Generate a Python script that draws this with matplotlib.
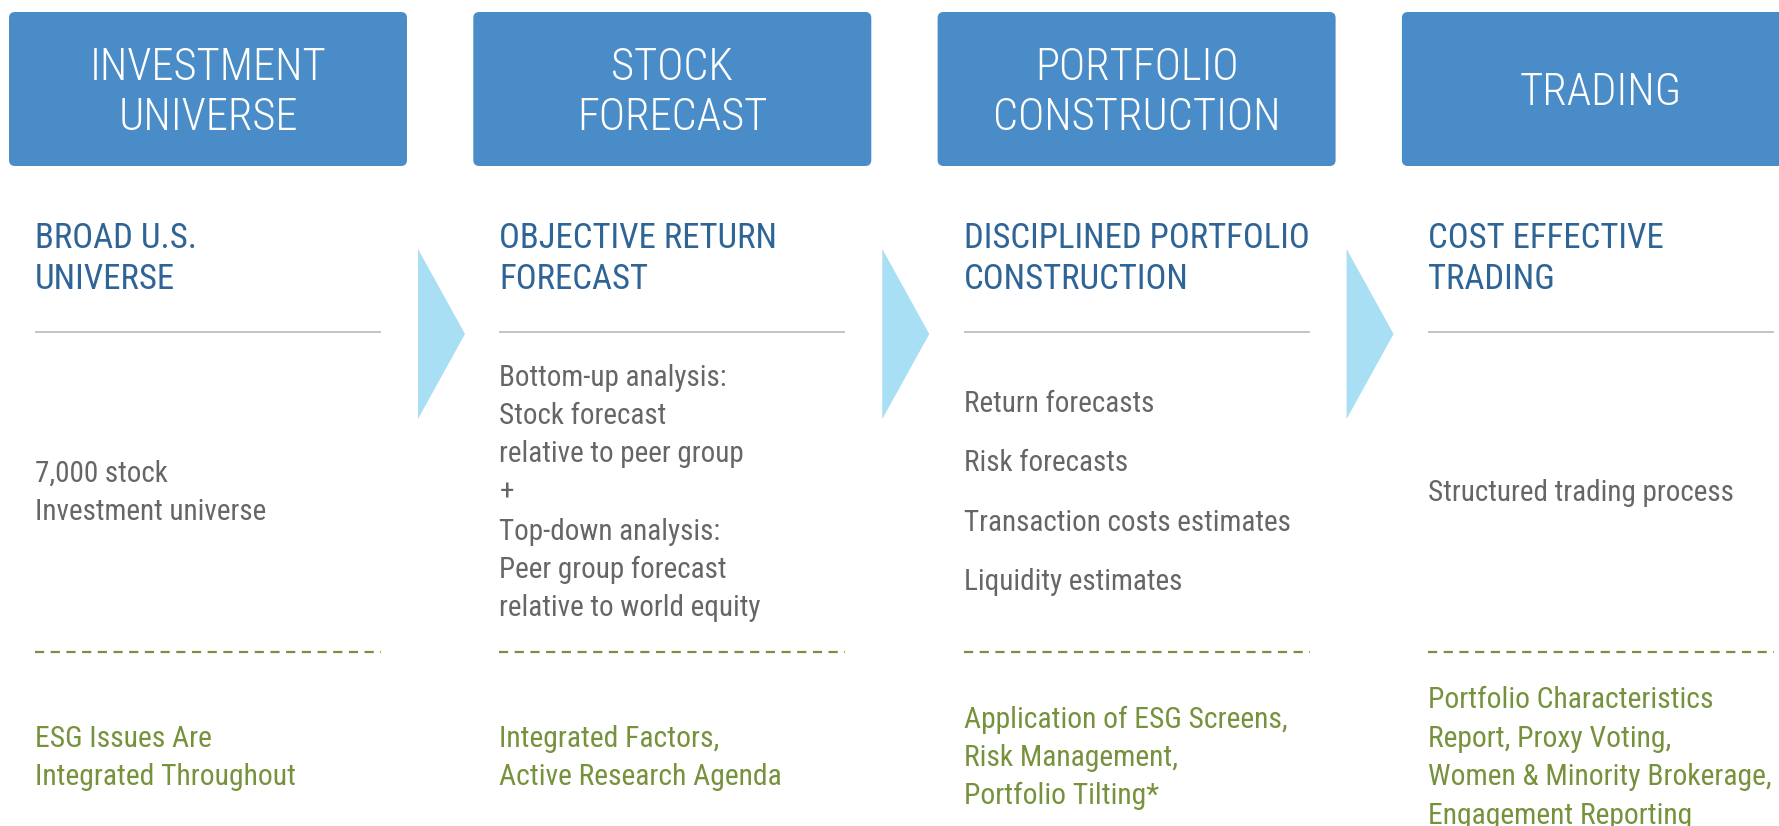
import matplotlib
matplotlib.use("Agg")
import matplotlib.pyplot as plt
from matplotlib import font_manager as fm
from matplotlib.patches import FancyBboxPatch, Polygon

# ---------------- data ----------------
headers = [["INVESTMENT", "UNIVERSE"],
           ["STOCK", "FORECAST"],
           ["PORTFOLIO", "CONSTRUCTION"],
           ["TRADING"]]
subheads = [["BROAD U.S.", "UNIVERSE"],
            ["OBJECTIVE RETURN", "FORECAST"],
            ["DISCIPLINED PORTFOLIO", "CONSTRUCTION"],
            ["COST EFFECTIVE", "TRADING"]]
body = [["7,000 stock", "Investment universe"],
        ["Bottom-up analysis:", "Stock forecast", "relative to peer group", "+",
         "Top-down analysis:", "Peer group forecast", "relative to world equity"],
        ["Return forecasts", "Risk forecasts", "Transaction costs estimates",
         "Liquidity estimates"],
        ["Structured trading process"]]
esg = [["ESG Issues Are", "Integrated Throughout"],
       ["Integrated Factors,", "Active Research Agenda"],
       ["Application of ESG Screens,", "Risk Management,", "Portfolio Tilting*"],
       ["Portfolio Characteristics", "Report, Proxy Voting,",
        "Women & Minority Brokerage,", "Engagement Reporting"]]
body_spacing = [38.5, 38.5, 59.3, 38.5]

# ---------------- style ----------------
W, H, DPI = 1779, 826, 100
BOX_BLUE = "#4a8cc8"
SUB_BLUE = "#2f6496"
GRAY_TXT = "#666666"
GREEN = "#76923c"
ARROW = "#a8dff5"
RULE = "#bfbfbf"

names = {f.name for f in fm.fontManager.ttflist}
FAM0 = "DejaVu Sans"
for cand in ["Liberation Sans Narrow", "Arial Narrow", "Roboto Condensed",
             "Archivo Narrow", "Sofia Sans Condensed"]:
    if cand in names:
        FAM0 = cand
        break
FAM = [FAM0, "DejaVu Sans"]
plt.rcParams["font.family"] = FAM
plt.rcParams["lines.scale_dashes"] = False

fig = plt.figure(figsize=(W / DPI, H / DPI), dpi=DPI)
ax = fig.add_axes([0, 0, 1, 1])
ax.set_xlim(0, W)
ax.set_ylim(H, 0)
ax.axis("off")

pitch = 464.3
box_left0, box_w, box_top, box_bot = 9, 398, 12, 166
col_x0, rule_w = 35, 346

def txt(x, y, s, size, color, ha="left", weight="normal"):
    ax.text(x, y, s, fontsize=size, color=color, ha=ha, va="baseline",
            fontweight=weight, clip_on=False)

for i in range(4):
    bl = box_left0 + pitch * i
    ax.add_patch(FancyBboxPatch((bl, box_top), box_w, box_bot - box_top,
                                boxstyle="round,pad=0,rounding_size=6",
                                fc=BOX_BLUE, ec="none"))
    # header text
    n = len(headers[i])
    cy = (box_top + box_bot) / 2
    for j, s in enumerate(headers[i]):
        yb = cy + (j - (n - 1) / 2) * 51 + 16
        txt(bl + box_w / 2, yb, s, 32, "white", ha="center", weight="light")

    cx = col_x0 + pitch * i
    # subheading
    for j, s in enumerate(subheads[i]):
        txt(cx, 248 + 41 * j, s, 25, SUB_BLUE)
    # solid rule
    ax.plot([cx, cx + rule_w], [332, 332], color=RULE, lw=1.3,
            solid_capstyle="butt")
    # body
    n = len(body[i])
    sp = body_spacing[i]
    for j, s in enumerate(body[i]):
        txt(cx, 501 + (j - (n - 1) / 2) * sp, s, 21, GRAY_TXT)
    # dashed rule
    ax.plot([cx, cx + rule_w], [652, 652], color=GREEN, lw=1.6,
            linestyle=(0, (6.6, 4.7)), dash_capstyle="butt")
    # esg lines
    n = len(esg[i])
    for j, s in enumerate(esg[i]):
        txt(cx, 766 + (j - (n - 1) / 2) * 38.5, s, 21.3, GREEN)

    # arrow
    if i < 3:
        ax0 = bl + box_w + 11
        ax.add_patch(Polygon([(ax0, 249), (ax0 + 47, 334), (ax0, 419)],
                             closed=True, fc=ARROW, ec="none"))

fig.savefig("out.png", dpi=DPI, facecolor="white")
